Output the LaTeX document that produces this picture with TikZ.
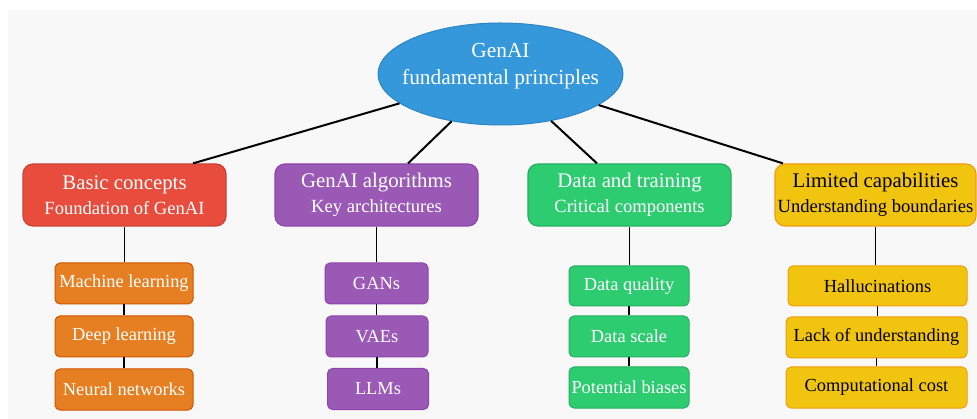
\documentclass[tikz,border=0pt]{standalone}
\usepackage{fontspec}
\setmainfont{Liberation Serif}
\usetikzlibrary{shapes.geometric}
\definecolor{bgc}{RGB}{248,248,248}
\definecolor{blueF}{RGB}{52,152,219}\definecolor{blueD}{RGB}{46,134,193}
\definecolor{redF}{RGB}{231,76,60}\definecolor{redD}{RGB}{203,67,53}
\definecolor{purF}{RGB}{155,89,182}\definecolor{purD}{RGB}{142,68,173}
\definecolor{grnF}{RGB}{46,204,113}\definecolor{grnD}{RGB}{39,174,96}
\definecolor{yelF}{RGB}{241,196,15}\definecolor{yelD}{RGB}{243,156,18}
\definecolor{orgF}{RGB}{230,126,34}\definecolor{orgD}{RGB}{211,84,0}
\newcommand{\subt}[1]{{\fontsize{18.6}{20}\selectfont #1}}
\tikzset{
  topbox/.style={rectangle,rounded corners=10pt,draw=#1D,fill=#1F,line width=1.2pt,
    minimum width=203pt,minimum height=62pt,inner sep=0pt,align=center,text=white,
    font=\fontsize{20.8}{25}\selectfont},
  subbox/.style={rectangle,rounded corners=5pt,draw=#1D,fill=#1F,line width=1pt,
    minimum height=41pt,inner sep=0pt,align=center,text=white,
    font=\fontsize{18.4}{20}\selectfont},
  link/.style={draw=black,line width=2pt},
  vlink/.style={draw=black,line width=1.8pt}
}
\begin{document}
\begin{tikzpicture}[x=1pt,y=-1pt]
\useasboundingbox (0,0) rectangle (977,419);
\fill[white] (0,0) rectangle (977,419);
\fill[bgc] (8,10) rectangle (977,419);
% nodes
\node[ellipse,draw=blueD,fill=blueF,line width=1pt,minimum width=245pt,minimum height=102pt,
  inner sep=0pt] (root) at (500.5,74) {};
\node[align=center,text=white,inner sep=0pt,font=\fontsize{21.4}{26.5}\selectfont]
  (rootlabel) at (500.5,66) {GenAI\\fundamental principles};
\node[topbox=red] (b1) at (124.5,195) {Basic concepts\\\subt{Foundation of GenAI}};
\node[topbox=pur] (b2) at (376.5,195) {GenAI algorithms\\\subt{Key architectures}};
\node[topbox=grn] (b3) at (629.5,195) {Data and training\\\subt{Critical components}};
\node[topbox=yel,text=black,minimum width=201pt] (b4) at (875.5,195) {Limited capabilities\\\subt{Understanding boundaries}};
% children
\node[subbox=org,minimum width=138pt] (c11) at (124,283.5) {Machine learning};
\node[subbox=org,minimum width=138pt] (c12) at (124,336.5) {Deep learning};
\node[subbox=org,minimum width=138pt] (c13) at (124,389.5) {Neural networks};
\node[subbox=pur,minimum width=103pt] (c21) at (376.5,283.5) {GANs};
\node[subbox=pur,minimum width=102pt] (c22) at (377,336.5) {VAEs};
\node[subbox=pur,minimum width=101pt] (c23) at (378,389) {LLMs};
\node[subbox=grn,minimum width=120pt,minimum height=40pt] (c31) at (629,286) {Data quality};
\node[subbox=grn,minimum width=120pt] (c32) at (629,336.5) {Data scale};
\node[subbox=grn,minimum width=120pt] (c33) at (629,387.5) {Potential biases};
\node[subbox=yel,text=black,minimum width=179pt,minimum height=40pt] (c41) at (877.5,286) {Hallucinations};
\node[subbox=yel,text=black,minimum width=181pt] (c42) at (876.5,337.5) {Lack of understanding};
\node[subbox=yel,text=black,minimum width=181pt] (c43) at (876.5,387.5) {Computational cost};
% connector endpoints
\coordinate (e1) at ([xshift=68.5pt]b1.north);
\coordinate (e2) at ([xshift=31.5pt]b2.north);
\coordinate (e3) at ([xshift=-32.5pt]b3.north);
\coordinate (e4) at ([xshift=-92.5pt]b4.north);
\draw[link] (root) -- (e1);
\draw[link] (root) -- (e2);
\draw[link] (root) -- (e3);
\draw[link] (root) -- (e4);
\foreach \p/\a/\b/\c in {b1/c11/c12/c13,b2/c21/c22/c23,b3/c31/c32/c33,b4/c41/c42/c43}{
  \draw[vlink] (\p.south) -- (\p.south |- \a.north);
  \draw[vlink] (\a.south) -- (\a.south |- \b.north);
  \draw[vlink] (\b.south) -- (\b.south |- \c.north);
}
\end{tikzpicture}
\end{document}
